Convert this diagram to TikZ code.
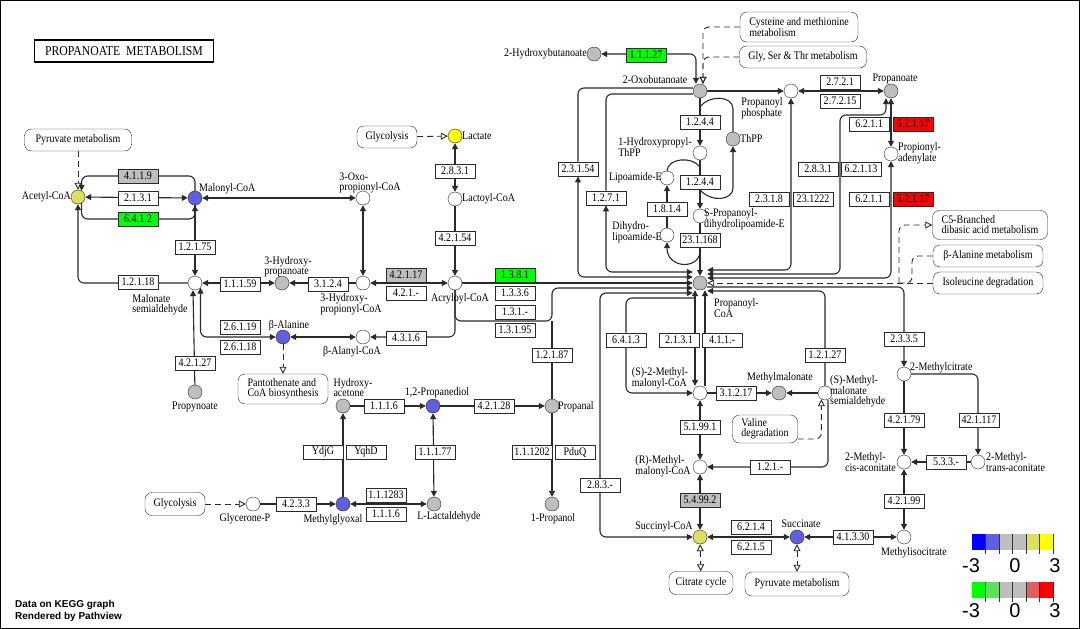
\documentclass[tikz,border=0pt]{standalone}
\usepackage{fontspec}
\setmainfont{Liberation Serif}
\newfontfamily\keggfont[FakeStretch=0.87]{Liberation Serif}
\newfontfamily\pvfont{Liberation Sans}
\usepackage{tikz}
\usetikzlibrary{arrows.meta,positioning,calc,backgrounds}
\definecolor{edgegrey}{HTML}{2A2A2A}
\definecolor{cpdgrey}{HTML}{BEBEBE}
\definecolor{cpdblue}{HTML}{5F5FDF}
\definecolor{cpdolive}{HTML}{DFDF5F}
\definecolor{cpdyellow}{HTML}{FFFF00}
\definecolor{legblue}{HTML}{0000FF}
\definecolor{upgreen}{HTML}{00FF00}
\definecolor{lightgreen}{HTML}{5FDF5F}
\definecolor{lightred}{HTML}{DF5F5F}
\definecolor{upred}{HTML}{FF0000}
\newcommand{\keggtext}{\keggfont\fontsize{11.5}{10}\selectfont}

\begin{document}
\begin{tikzpicture}[x=1pt, y=-1pt,
    cpd/.style={circle, draw=edgegrey, fill=white, minimum size=14pt, inner sep=0pt},
    enz/.style={rectangle, draw=edgegrey, fill=white, minimum width=40pt,
                minimum height=14.5pt, inner sep=0pt, font=\keggtext},
    mapbox/.style={rectangle, rounded corners=7pt, draw=edgegrey, fill=white,
                   minimum height=22pt, inner xsep=5pt, inner ysep=2pt,
                   align=left, font=\keggtext},
    lbl/.style={inner sep=0pt, align=left, font=\keggtext},
    rxn/.style={draw=edgegrey, line width=1.1pt, rounded corners=6pt,
                >={Triangle[length=6pt,width=6pt]}},
    link/.style={draw=edgegrey, line width=0.9pt, dash pattern=on 6pt off 4pt,
                 rounded corners=6pt, >={Triangle[open,length=7pt,width=7pt]}},
]
\useasboundingbox (0,0) rectangle (1080,629);

\node[draw=black, line width=1.8pt, minimum width=179pt, minimum height=22pt,
      font=\keggfont\fontsize{13.5}{13}\selectfont] (title) at (124,51) {PROPANOATE\ \ METABOLISM};

% compounds
\node[cpd, fill=cpdolive] (acetyl) at (78,197) {};
\node[cpd, fill=cpdblue] (malonyl) at (195,198) {};
\node[cpd] (msa) at (195,283) {};
\node[cpd, fill=cpdgrey] (hpa) at (282,283) {};
\node[cpd] (hpcoa) at (363,283) {};
\node[cpd] (oxocoa) at (363,198) {};
\node[cpd, fill=cpdblue] (balanine) at (283,337) {};
\node[cpd] (balcoa) at (363,337) {};
\node[cpd, fill=cpdgrey] (propynoate) at (195,392) {};
\node[cpd] (acryl) at (455,283) {};
\node[cpd] (lactoyl) at (455,199) {};
\node[cpd, fill=cpdyellow] (lactate) at (455,136) {};
\node[cpd, fill=cpdgrey] (hbut) at (594,54) {};
\node[cpd, fill=cpdgrey] (oxobut) at (700,91) {};
\node[cpd] (prphos) at (791,91) {};
\node[cpd, fill=cpdgrey] (propanoate) at (891,91) {};
\node[cpd] (adenyl) at (891,154) {};
\node[cpd] (hpthpp) at (700,153) {};
\node[cpd, fill=cpdgrey] (thpp) at (733,139) {};
\node[cpd] (spdl) at (700,216) {};
\node[cpd] (lipo) at (667,178) {};
\node[cpd] (dhlipo) at (667,235) {};
\node[cpd, fill=cpdgrey] (prcoa) at (700,283) {};
\node[cpd] (smmcoa) at (700,393) {};
\node[cpd, fill=cpdgrey] (mma) at (779,393) {};
\node[cpd] (mmsa) at (825,393) {};
\node[cpd] (rmmcoa) at (700,467) {};
\node[cpd, fill=cpdolive] (succoa) at (700,537) {};
\node[cpd, fill=cpdblue] (succ) at (797,537) {};
\node[cpd] (micit) at (904,537) {};
\node[cpd] (cisacon) at (904,462) {};
\node[cpd] (transacon) at (978,462) {};
\node[cpd] (mcit) at (904,374) {};
\node[cpd, fill=cpdgrey] (hacetone) at (343,406) {};
\node[cpd, fill=cpdblue] (propdiol) at (433,406) {};
\node[cpd, fill=cpdgrey] (propanal) at (552,406) {};
\node[cpd, fill=cpdgrey] (propanol) at (552,504) {};
\node[cpd, fill=cpdblue] (mglyox) at (343,504) {};
\node[cpd] (glyceronep) at (253,504) {};
\node[cpd, fill=cpdgrey] (lactald) at (434,504) {};

% compound names
\node[lbl, anchor=east] (l-acetyl) at (71,197) {Acetyl-CoA};
\node[lbl, anchor=west] (l-malonyl) at (199,189) {Malonyl-CoA};
\node[lbl] (l-msa) at (160,305) {Malonate\\semialdehyde};
\node[lbl] (l-hpa) at (288,267) {3-Hydroxy-\\propanoate};
\node[lbl] (l-oxocoa) at (370,183) {3-Oxo-\\propionyl-CoA};
\node[lbl] (l-hpcoa) at (351,304) {3-Hydroxy-\\propionyl-CoA};
\node[lbl] (l-balanine) at (289,326) {β-Alanine};
\node[lbl] (l-balcoa) at (352,352) {β-Alanyl-CoA};
\node[lbl] (l-propynoate) at (195,407) {Propynoate};
\node[lbl] (l-acryl) at (460,299) {Acryloyl-CoA};
\node[lbl, anchor=west] (l-lactoyl) at (462,199) {Lactoyl-CoA};
\node[lbl, anchor=west] (l-lactate) at (462,136) {Lactate};
\node[lbl, anchor=east] (l-hbut) at (587,54) {2-Hydroxybutanoate};
\node[lbl] (l-oxobut) at (655,80) {2-Oxobutanoate};
\node[lbl] (l-prphos) at (762,108) {Propanoyl\\phosphate};
\node[lbl] (l-propanoate) at (895,79) {Propanoate};
\node[lbl, anchor=west] (l-adenyl) at (898,153) {Propionyl-\\adenylate};
\node[lbl] (l-hpthpp) at (655,147) {1-Hydroxypropyl-\\ThPP};
\node[lbl, anchor=west] (l-thpp) at (740,139) {ThPP};
\node[lbl, anchor=east] (l-lipo) at (662,178) {Lipoamide-E};
\node[lbl, anchor=east] (l-dhlipo) at (662,232) {Dihydro-\\lipoamide-E};
\node[lbl, anchor=west] (l-spdl) at (704,219) {S-Propanoyl-\\dihydrolipoamide-E};
\node[lbl, anchor=west] (l-prcoa) at (714,308) {Propanoyl-\\CoA};
\node[lbl] (l-smmcoa) at (660,378) {(S)-2-Methyl-\\malonyl-CoA};
\node[lbl] (l-mma) at (780,378) {Methylmalonate};
\node[lbl, anchor=west] (l-mmsa) at (830,391) {(S)-Methyl-\\malonate\\semialdehyde};
\node[lbl] (l-rmmcoa) at (663,466) {(R)-Methyl-\\malonyl-CoA};
\node[lbl] (l-succoa) at (664,527) {Succinyl-CoA};
\node[lbl] (l-succ) at (801,524) {Succinate};
\node[lbl] (l-micit) at (914,553) {Methylisocitrate};
\node[lbl, anchor=west] (l-cisacon) at (845,462) {2-Methyl-\\cis-aconitate};
\node[lbl, anchor=west] (l-transacon) at (986,462) {2-Methyl-\\trans-aconitate};
\node[lbl, anchor=west] (l-mcit) at (910,368) {2-Methylcitrate};
\node[lbl] (l-hacetone) at (353,388) {Hydroxy-\\acetone};
\node[lbl] (l-propdiol) at (437,393) {1,2-Propanediol};
\node[lbl, anchor=west] (l-propanal) at (558,407) {Propanal};
\node[lbl] (l-propanol) at (553,519) {1-Propanol};
\node[lbl] (l-mglyox) at (333,520) {Methylglyoxal};
\node[lbl] (l-glyceronep) at (245,519) {Glycerone-P};
\node[lbl] (l-lactald) at (449,517) {L-Lactaldehyde};

% enzymes
\node[enz, fill=cpdgrey] (e41119) at (138,176) {4.1.1.9};
\node[enz] (e2131a) at (138,198) {2.1.3.1};
\node[enz, fill=upgreen] (e6412) at (138,219) {6.4.1.2};
\node[enz] (e12175) at (195,247) {1.2.1.75};
\node[enz] (e12118) at (138,282) {1.2.1.18};
\node[enz] (e11159) at (240,284) {1.1.1.59};
\node[enz] (e3124) at (328,284) {3.1.2.4};
\node[enz, fill=cpdgrey] (e42117) at (406,275) {4.2.1.17};
\node[enz] (e421x) at (406,293) {4.2.1.-};
\node[enz] (e26119) at (240,327) {2.6.1.19};
\node[enz] (e26118) at (240,347) {2.6.1.18};
\node[enz] (e42127) at (195,363) {4.2.1.27};
\node[enz] (e4316) at (406,338) {4.3.1.6};
\node[enz] (e42154) at (455,238) {4.2.1.54};
\node[enz] (e2831a) at (455,171) {2.8.3.1};
\node[enz, fill=upgreen] (e1381) at (515,275) {1.3.8.1};
\node[enz] (e1336) at (515,293) {1.3.3.6};
\node[enz] (e131x) at (515,312) {1.3.1.-};
\node[enz] (e13195) at (515,330) {1.3.1.95};
\node[enz] (e12187) at (552,355) {1.2.1.87};
\node[enz, fill=upgreen] (e11127) at (646,55) {1.1.1.27};
\node[enz] (e23154) at (578,169) {2.3.1.54};
\node[enz] (e1271) at (606,198) {1.2.7.1};
\node[enz] (e1244a) at (700,122) {1.2.4.4};
\node[enz] (e1244b) at (700,182) {1.2.4.4};
\node[enz] (e1814) at (667,209) {1.8.1.4};
\node[enz] (e231168) at (700,240) {23.1.168};
\node[enz] (e2721) at (840,82) {2.7.2.1};
\node[enz] (e27215) at (840,101) {2.7.2.15};
\node[enz] (e6211a) at (869,124) {6.2.1.1};
\node[enz, fill=upred] (e62117a) at (913,124) {6.2.1.17};
\node[enz] (e2831b) at (818,169) {2.8.3.1};
\node[enz] (e62113) at (861,169) {6.2.1.13};
\node[enz] (e2318) at (769,199) {2.3.1.8};
\node[enz] (e231222) at (813,199) {23.1222};
\node[enz] (e6211b) at (869,199) {6.2.1.1};
\node[enz, fill=upred] (e62117b) at (913,199) {6.2.1.17};
\node[enz] (e6413) at (626,340) {6.4.1.3};
\node[enz] (e2131b) at (679,340) {2.1.3.1};
\node[enz] (e411x) at (722,340) {4.1.1.-};
\node[enz] (e31217) at (736,393) {3.1.2.17};
\node[enz] (e12127) at (825,355) {1.2.1.27};
\node[enz] (e51991) at (700,427) {5.1.99.1};
\node[enz] (e121x) at (770,467) {1.2.1.-};
\node[enz, fill=cpdgrey] (e54992) at (700,500) {5.4.99.2};
\node[enz] (e283x) at (600,485) {2.8.3.-};
\node[enz] (e6214) at (751,527) {6.2.1.4};
\node[enz] (e6215) at (751,547) {6.2.1.5};
\node[enz] (e41330) at (853,537) {4.1.3.30};
\node[enz] (e2335) at (904,339) {2.3.3.5};
\node[enz] (e42179) at (904,420) {4.2.1.79};
\node[enz] (e421117) at (979,420) {42.1.117};
\node[enz] (e42199) at (904,501) {4.2.1.99};
\node[enz] (e533x) at (946,462) {5.3.3.-};
\node[enz] (e1116a) at (384,406) {1.1.1.6};
\node[enz] (e42128) at (494,406) {4.2.1.28};
\node[enz] (ydjg) at (323,452) {YdjG};
\node[enz] (yqhd) at (366,452) {YqhD};
\node[enz] (e11177) at (435,452) {1.1.1.77};
\node[enz] (e111202) at (532,452) {1.1.1202};
\node[enz] (pduq) at (575,452) {PduQ};
\node[enz] (e4233) at (296,504) {4.2.3.3};
\node[enz] (e111283) at (386,495) {1.1.1283};
\node[enz] (e1116b) at (386,514) {1.1.1.6};

% pathway maps
\node[mapbox, minimum width=107pt] (m-pyr1) at (78,140) {Pyruvate metabolism};
\node[mapbox, minimum width=60pt] (m-glyco1) at (387,137) {Glycolysis};
\node[mapbox, minimum width=118pt, minimum height=30pt] (m-cys) at (799,27) {Cysteine and methionine\\metabolism};
\node[mapbox, minimum width=127pt] (m-gly) at (803,57) {Gly, Ser \& Thr metabolism};
\node[mapbox, minimum width=115pt, minimum height=29pt] (m-c5) at (990,225) {C5-Branched\\dibasic acid metabolism};
\node[mapbox, minimum width=110pt] (m-bala) at (988,256) {β-Alanine metabolism};
\node[mapbox, minimum width=110pt] (m-ile) at (988,283) {Isoleucine degradation};
\node[mapbox, minimum width=90pt, minimum height=30pt] (m-panto) at (283,389) {Pantothenate and\\CoA biosynthesis};
\node[mapbox, minimum width=65pt, minimum height=28pt] (m-valine) at (765,429) {Valine\\degradation};
\node[mapbox, minimum width=60pt, minimum height=23pt] (m-glyco2) at (175,504) {Glycolysis};
\node[mapbox, minimum width=64pt, minimum height=23pt] (m-citrate) at (701,583) {Citrate cycle};
\node[mapbox, minimum width=104pt, minimum height=24pt] (m-pyr2) at (797,584) {Pyruvate metabolism};

% junctions
\coordinate (j131) at (552,321);
\coordinate (j283) at (600,293);
\coordinate (j2831) at (840,115);
\coordinate (jbala) at (912,283);
\coordinate (jc5) at (899,283);
\coordinate (j6413) at (695,298);
\coordinate (tpa) at (700,107);
\coordinate (tpb) at (700,190);
\coordinate (tpc) at (700,167);
\coordinate (tpd) at (700,253);

\begin{scope}[on background layer]
\draw[black, line width=1.2pt] (0.6,0.6) rectangle (1079.4,628.4);

\draw[link,->] (m-pyr1) -- (acetyl);
\draw[rxn,->] (malonyl.north) |- (e41119) -| (acetyl.60);
\draw[rxn,<->] (acetyl) -- (malonyl);
\draw[rxn,->] (acetyl.-60) |- (e6412) -| (malonyl.south);
\draw[rxn,->] (msa) -| (acetyl.south);
\draw[rxn,->] (malonyl) -- (msa);
\draw[rxn,<->] (msa) -- (hpa);
\draw[rxn,->] (hpcoa) -- (hpa);
\draw[rxn,<->] (malonyl) -- (oxocoa);
\draw[rxn,<->] (oxocoa) -- (hpcoa);
\draw[rxn,<->] (acryl) -- (hpcoa);
\draw[rxn,<->] (balanine) -| (msa.-40);
\draw[rxn,->] (propynoate) -- ([xshift=-2pt]msa.south);
\draw[rxn,<->] (balanine) -- (balcoa);
\draw[link,->] (balanine) -- (m-panto);
\draw[rxn,->] (acryl.south) |- (balcoa);
\draw[rxn,->] (lactoyl) -- (acryl);
\draw[rxn,<->] (lactoyl) -- (lactate);
\draw[link,->] (m-glyco1) -- (lactate);

% into propanoyl-CoA from the left
\draw[rxn,->] (acryl) -- (prcoa.west);
\draw[rxn,->] (acryl.south) |- (j131) |- ([yshift=-5pt]prcoa.west);
\draw[rxn] (propanal) -- (j131);
\draw[rxn,<->] (succoa) -| (j283) -- ([yshift=-10pt]prcoa.west);
\draw[rxn,<->] ([yshift=3pt]oxobut.west) -| (e23154) |- ([yshift=6pt]prcoa.west);
\draw[rxn,<->] ([yshift=-3pt]oxobut.west) -| (e1271) |- ([yshift=11pt]prcoa.west);

% 2-oxobutanoate
\draw[rxn,<->] (hbut) -| ([xshift=-4pt]oxobut.north);
\draw[link,->] (m-cys) -| ([xshift=3pt]oxobut.north);
\draw[link,->] (m-gly) -| ([xshift=3pt]oxobut.north);
\draw[rxn,->] (oxobut) -- (prphos);
\draw[rxn,<->] (prphos) -- (propanoate);
\draw[rxn,->] (oxobut) -- (hpthpp);
\draw[rxn,->] (hpthpp) -- (spdl);
\draw[rxn,->] (spdl) -- (prcoa);
\draw[rxn] (tpa) .. controls (708,95) and (733,95) .. (733,115) -- (thpp.north);
\draw[rxn,->] (tpb) .. controls (712,203) and (733,200) .. (733,182) -- (thpp.south);
\draw[rxn] (lipo.north) .. controls (668,158) and (692,156) .. (tpc);
\draw[rxn,->] (tpd) .. controls (697,270) and (667,268) .. (dhlipo.south);
\draw[rxn,->] (dhlipo) -- (lipo);

% into propanoyl-CoA from the right
\draw[rxn,<->] (prphos.south) |- ([yshift=13pt]prcoa.east);
\draw[rxn,<->] ([xshift=-5pt]propanoate.south) |- (j2831) |- ([yshift=9pt]prcoa.east);
\draw[rxn,<->] (propanoate) -- (adenyl);
\draw[rxn,<->] (adenyl) |- ([yshift=5pt]prcoa.east);
\draw[link,->] (m-ile) -- (prcoa.east);
\draw[link] (m-bala) -| (jbala) -- (jc5);
\draw[link,->] (jc5) |- (m-c5);
\draw[rxn,->] (mmsa) |- ([yshift=-8pt]prcoa.east);
\draw[rxn,->] ([yshift=-4pt]prcoa.east) -| (mcit);

% methylmalonyl-CoA branch
\draw[rxn,<->] ([xshift=-5pt]prcoa.south) -- ([xshift=-5pt]smmcoa.north);
\draw[rxn,->] ([xshift=5pt]smmcoa.north) -- ([xshift=5pt]prcoa.south);
\draw[rxn,->] (j6413) -| (e6413) |- (smmcoa);
\draw[rxn,->] (smmcoa) -- (mma);
\draw[rxn,->] (mmsa) -- (mma);
\draw[link,->] ([yshift=-10pt]m-valine.east) -| (mmsa.-120);
\draw[rxn,->] ([xshift=3pt]mmsa.south) |- (rmmcoa);
\draw[rxn,<->] (smmcoa) -- (rmmcoa);
\draw[rxn,<->] (rmmcoa) -- (succoa);
\draw[rxn,<->] (succoa) -- (succ);
\draw[link,<->] (succoa) -- (m-citrate);
\draw[link,<->] (succ) -- (m-pyr2);
\draw[rxn,<->] (micit) -- (succ);
\draw[rxn,<->] (cisacon) -- (micit);
\draw[rxn,->] (mcit) -- (cisacon);
\draw[rxn,->] (mcit) -| (transacon);
\draw[rxn,->] (transacon) -- (cisacon);

% propanediol / methylglyoxal
\draw[rxn,->] (hacetone) -- (propdiol);
\draw[rxn,->] (propdiol) -- (propanal);
\draw[rxn,->] (propanal) -- (propanol);
\draw[rxn,->] (mglyox) -- (hacetone);
\draw[rxn,<->] (propdiol) -- (lactald);
\draw[rxn,<->] (mglyox) -- (lactald);
\draw[rxn,->] (glyceronep) -- (mglyox);
\draw[link,->] (m-glyco2) -- (glyceronep);
\end{scope}

% legend
\foreach \c [count=\i from 0] in {legblue,cpdblue,cpdgrey,cpdgrey,cpdolive,cpdyellow}
  \fill[\c] ({972+13.5*\i},534) rectangle ++(13.5,16);
\foreach \c [count=\i from 0] in {upgreen,lightgreen,cpdgrey,cpdgrey,lightred,upred}
  \fill[\c] ({972+13.5*\i},582) rectangle ++(13.5,16);
\foreach \i in {1,...,6} {
  \draw[black!80, line width=0.7pt] ({972+13.5*\i},534) -- ++(0,20);
  \draw[black!80, line width=0.7pt] ({972+13.5*\i},582) -- ++(0,20);
}
\node[font=\pvfont\fontsize{20}{20}\selectfont] (leg-a1) at (971,566) {-3};
\node[font=\pvfont\fontsize{20}{20}\selectfont] (leg-a2) at (1015,566) {0};
\node[font=\pvfont\fontsize{20}{20}\selectfont] (leg-a3) at (1055,566) {3};
\node[font=\pvfont\fontsize{20}{20}\selectfont] (leg-b1) at (971,611) {-3};
\node[font=\pvfont\fontsize{20}{20}\selectfont] (leg-b2) at (1015,611) {0};
\node[font=\pvfont\fontsize{20}{20}\selectfont] (leg-b3) at (1055,611) {3};

\node[anchor=north west, align=left, inner sep=0pt,
      font=\pvfont\bfseries\fontsize{10}{12}\selectfont] (credit) at (15,600)
      {Data on KEGG graph\\Rendered by Pathview};
\end{tikzpicture}
\end{document}
